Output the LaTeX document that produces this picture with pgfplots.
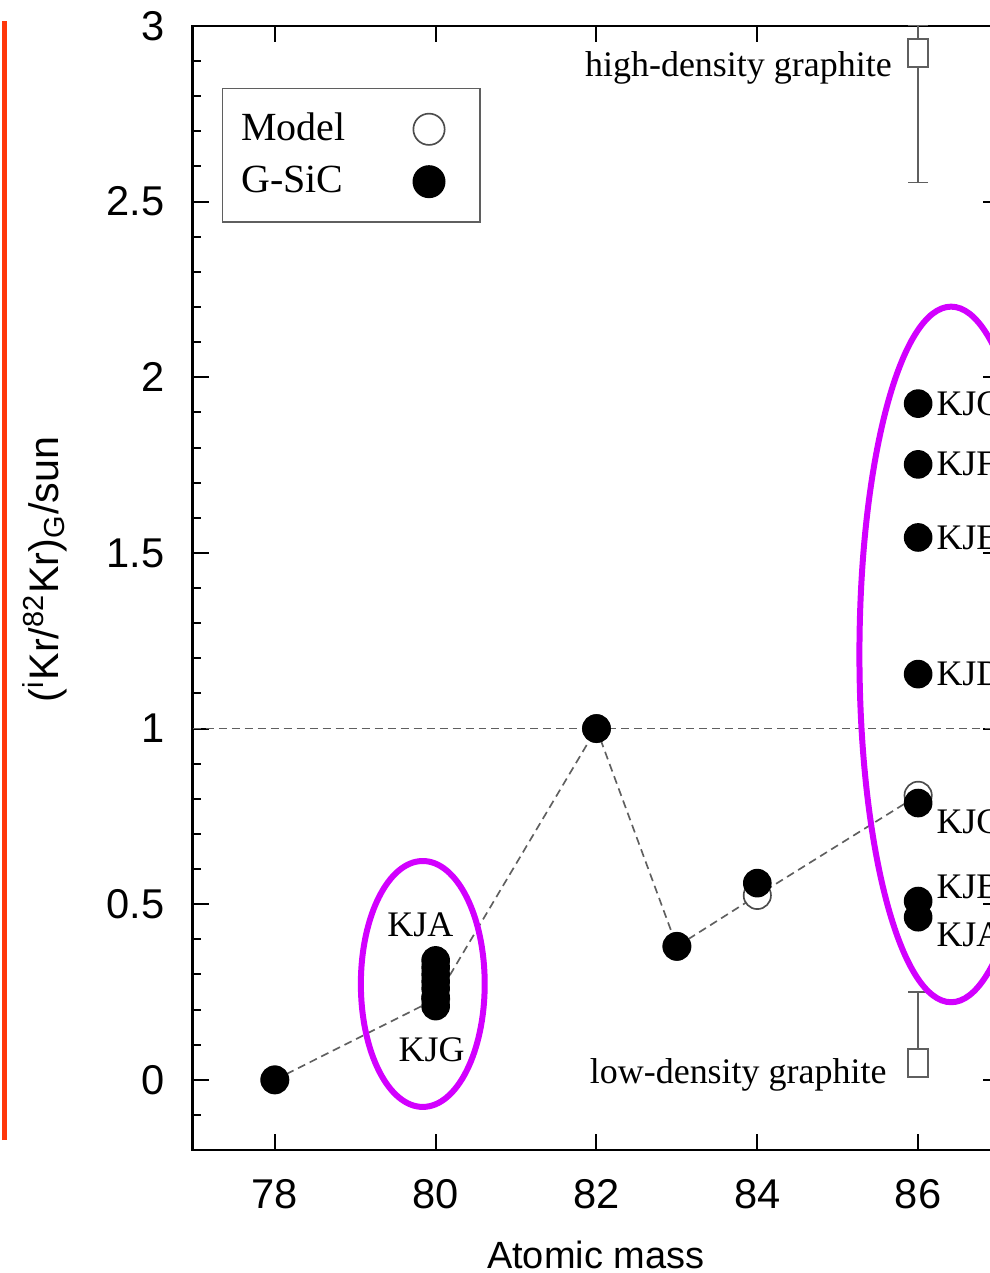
\documentclass[border=0pt]{standalone}
\usepackage{fontspec}
\setmainfont{Liberation Serif}
\setsansfont{Liberation Sans}
\usepackage{pgfplots}
\usepackage{pgfplotstable}
\pgfplotsset{compat=1.18}
\definecolor{ring}{RGB}{210,0,255}
\definecolor{redbar}{RGB}{255,55,10}
\definecolor{dgray}{RGB}{95,95,95}

\pgfplotstableread{
x y
78 0
80 0.34
80 0.32
80 0.30
80 0.28
80 0.26
80 0.235
80 0.21
82 1
83 0.38
84 0.56
86 1.925
86 1.752
86 1.544
86 1.155
86 0.788
86 0.509
86 0.463
}\gsic

\pgfplotstableread{
x y
78 0
80 0.23
82 1
83 0.38
84 0.525
86 0.81
}\model

\newcommand{\serfont}{\rmfamily\fontsize{10.8}{13}\selectfont}
\newcommand{\legfont}{\rmfamily\fontsize{12}{14}\selectfont}
\newcommand{\sanfont}{\sffamily\fontsize{11.4}{13}\selectfont}
\newcommand{\tickfont}{\sffamily\fontsize{12.5}{14}\selectfont}

\begin{document}
\begin{tikzpicture}
\begin{axis}[
  scale only axis, width=241.98pt, height=337.6pt,
  xmin=76.98, xmax=87, ymin=-0.2, ymax=3,
  xtick={78,80,82,84,86},
  ytick={0,0.5,1,1.5,2,2.5,3},
  minor ytick={-0.1,0.1,0.2,0.3,0.4,0.6,0.7,0.8,0.9,1.1,1.2,1.3,1.4,1.6,1.7,1.8,1.9,2.1,2.2,2.3,2.4,2.6,2.7,2.8,2.9},
  tick align=inside,
  major tick length=4.8pt, minor tick length=2.4pt,
  axis line style={line width=0.8pt},
  every tick/.style={line width=0.6pt, black},
  /pgf/number format/assume math mode=true,
  tick label style={font=\tickfont},
  xticklabel style={anchor=north, inner sep=0pt, yshift=-8.5pt},
  yticklabel style={anchor=east, inner sep=0pt, xshift=-8.4pt},
  xlabel={Atomic mass},
  xlabel style={font=\sanfont, at={(axis description cs:0.5,-0.1049)}, anchor=base, inner sep=0pt},
  ylabel={(\textsuperscript{i}Kr/\textsuperscript{82}Kr)\textsubscript{G}/sun},
  ylabel style={font=\sffamily\fontsize{12.4}{14}\selectfont, at={(axis description cs:-0.1835,0.5166)}, anchor=center, inner sep=0pt},
  legend plot pos=right,
  legend style={at={(axis description cs:0.036,0.945)}, anchor=north west,
    draw=dgray, line width=0.5pt, font=\legfont, legend cell align=left,
    inner xsep=3.6pt, inner ysep=5.3pt, row sep=2.1pt},
  legend image code/.code={\path (-22.8pt,0pt) (11.5pt,0pt); \draw[#1, mark size=4.7pt] plot coordinates {(0pt,0pt)};},
]
\coordinate (SW) at (rel axis cs:0,0);
% reference line
\addplot[forget plot, dgray, line width=0.5pt, dash pattern=on 2.4pt off 1.5pt] coordinates {(76.98,1) (87,1)};
% model line
\addplot[forget plot, dgray, line width=0.5pt, dash pattern=on 2.4pt off 1.5pt] table[x=x,y=y] {\model};
% model points
\addplot[only marks, mark=*, mark size=4.1pt, mark options={fill=white, draw=black!70, line width=0.5pt}] table[x=x,y=y] {\model};
\addlegendentry{Model}
% G-SiC points
\addplot[only marks, mark=*, mark size=4.1pt, mark options={fill=black, draw=black}] table[x=x,y=y] {\gsic};
\addlegendentry{G-SiC}
% graphite error bars
\addplot[forget plot, only marks, mark=square*, mark size=3pt,
  mark options={fill=white, draw=dgray, line width=0.5pt, yscale=1.4},
  error bars/.cd, y dir=both, y explicit, error mark=|,
  error bar style={dgray, line width=0.5pt},
  error mark options={dgray, line width=0.5pt, mark size=3pt}]
  coordinates {(86,2.923) += (0,0.08) -= (0,0.369)};
\addplot[forget plot, only marks, mark=square*, mark size=3pt,
  mark options={fill=white, draw=dgray, line width=0.5pt, yscale=1.4},
  error bars/.cd, y dir=plus, y explicit, error mark=|,
  error bar style={dgray, line width=0.5pt},
  error mark options={dgray, line width=0.5pt, mark size=3pt}]
  coordinates {(86,0.048) += (0,0.202) -= (0,0)};
% ellipses
\draw[ring, line width=1.8pt] (axis cs:79.84,0.273) ellipse [x radius=0.77, y radius=0.35];
\draw[ring, line width=1.8pt] (axis cs:86.41,1.211) ellipse [x radius=1.14, y radius=0.99];
% labels
\node[font=\serfont, anchor=base east, inner sep=0pt] at (axis cs:85.68,2.855) {high-density graphite};
\node[font=\serfont, anchor=base east, inner sep=0pt] at (axis cs:85.615,-0.011) {low-density graphite};
\node[font=\serfont, anchor=center, inner sep=0pt] at (axis cs:79.81,0.441) {KJA};
\node[font=\serfont, anchor=center, inner sep=0pt] at (axis cs:79.95,0.085) {KJG};
\node[font=\serfont, anchor=west, inner sep=0pt] at (axis cs:86.22,1.925) {KJG};
\node[font=\serfont, anchor=west, inner sep=0pt] at (axis cs:86.22,1.752) {KJF};
\node[font=\serfont, anchor=west, inner sep=0pt] at (axis cs:86.22,1.544) {KJE};
\node[font=\serfont, anchor=west, inner sep=0pt] at (axis cs:86.22,1.155) {KJD};
\node[font=\serfont, anchor=west, inner sep=0pt] at (axis cs:86.22,0.736) {KJC};
\node[font=\serfont, anchor=west, inner sep=0pt] at (axis cs:86.22,0.549) {KJB};
\node[font=\serfont, anchor=west, inner sep=0pt] at (axis cs:86.22,0.412) {KJA};
\end{axis}
\draw[redbar, line width=1.7pt] ([xshift=-56.5pt, yshift=3pt]SW) -- ([xshift=-56.5pt, yshift=339pt]SW);
\pgfresetboundingbox
\path[use as bounding box] ([xshift=-57.9pt, yshift=-36.9pt]SW) rectangle ([xshift=239.4pt, yshift=345.4pt]SW);
\end{tikzpicture}
\end{document}
